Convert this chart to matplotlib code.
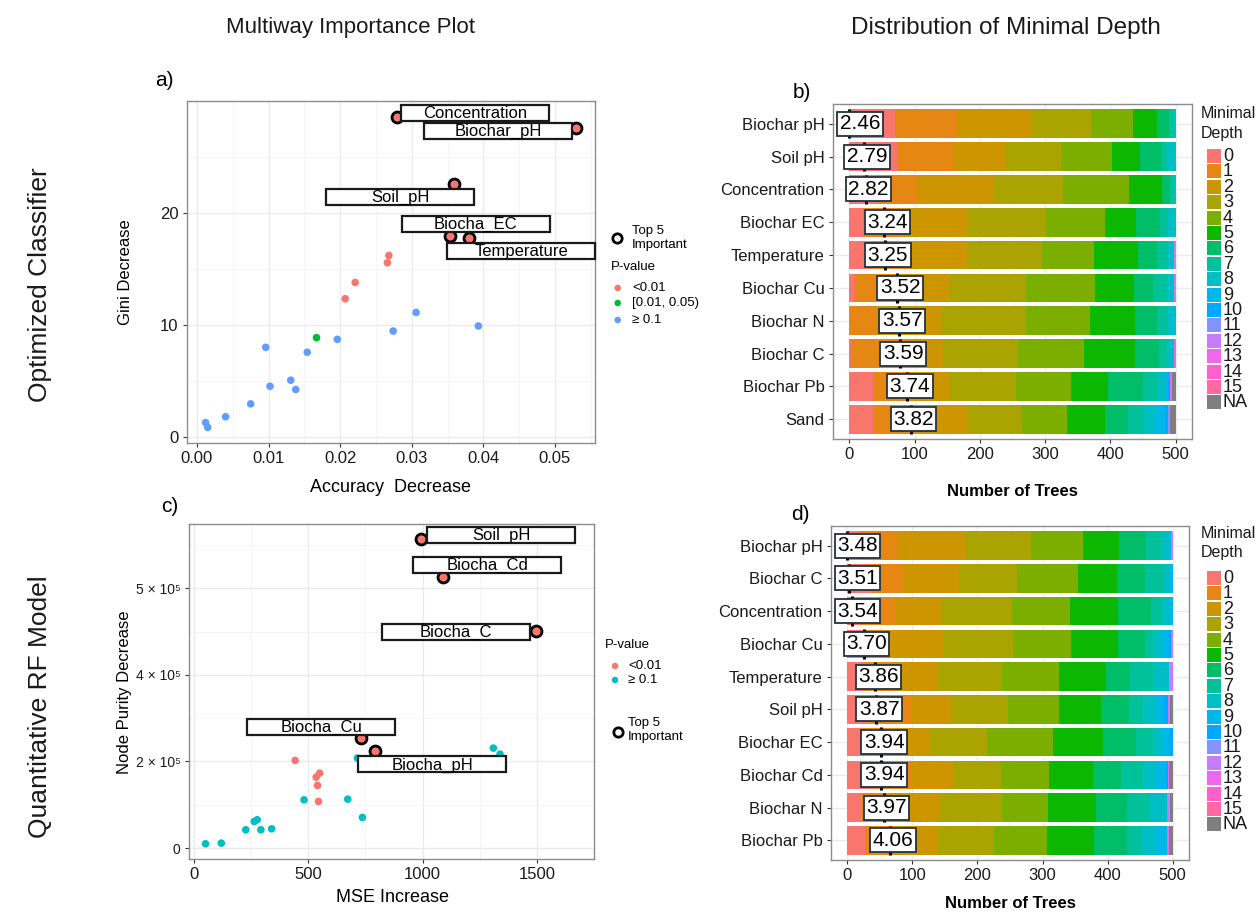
import matplotlib
matplotlib.use("Agg")
import matplotlib.pyplot as plt
from matplotlib.patches import Rectangle
import numpy as np

plt.rcParams['font.family'] = ['Liberation Sans', 'DejaVu Sans']

W, H = 1260, 914

# ---------------- a) multiway importance, classifier ----------------
a_top_names = ["Concentration", "Biochar_pH", "Soil_pH", "Biocha_EC", "Temperature"]
a_top_x = [0.0280, 0.0530, 0.0359, 0.0353, 0.0380]
a_top_y = [28.59, 27.59, 22.55, 17.93, 17.78]
a_red_x = [0.0207, 0.0221, 0.0266, 0.0268]
a_red_y = [12.36, 13.81, 15.56, 16.21]
a_green_x = [0.0167]
a_green_y = [8.89]
a_blue_x = [0.0012, 0.0015, 0.0040, 0.0075, 0.0096, 0.0102, 0.0131, 0.0138,
            0.0154, 0.0196, 0.0274, 0.0306, 0.0393]
a_blue_y = [1.33, 0.89, 1.84, 2.99, 8.03, 4.56, 5.10, 4.27,
            7.59, 8.74, 9.48, 11.14, 9.93]

# ---------------- c) multiway importance, regression ----------------
c_top_names = ["Soil_pH", "Biocha_Cd", "Biocha_C", "Biocha_Cu", "Biocha_pH"]
c_top_x = [994, 1091, 1496, 732, 794]
c_top_y = [713000, 625400, 501500, 253800, 223100]
c_red_x = [443, 535, 550, 541, 545]
c_red_y = [202300, 163800, 173000, 144600, 107700]
c_teal_x = [51, 120, 227, 264, 277, 293, 340, 482, 673, 715, 737, 1310, 1339]
c_teal_y = [10000, 11500, 42300, 61500, 65400, 42300, 44600, 111500,
            113000, 207700, 70800, 230800, 216900]
c_yticks = [0, 200000, 400000, 600000]
c_yticklabels = ["0", "2 × 10⁵", "4 × 10⁵", "5 × 10⁵"]

# ---------------- b) / d) minimal depth distribution ----------------
depth_levels = [str(i) for i in range(16)] + ["NA"]

b_vars = ["Biochar pH", "Soil pH", "Concentration", "Biochar EC", "Temperature",
          "Biochar Cu", "Biochar N", "Biochar C", "Biochar Pb", "Sand"]
b_mean = [2.46, 2.79, 2.82, 3.24, 3.25, 3.52, 3.57, 3.59, 3.74, 3.82]
b_counts = [
    [70, 97, 113, 90, 65, 36, 19, 6, 4, 0, 0, 0, 0, 0, 0, 0, 0],
    [73, 86, 81, 84, 78, 43, 32, 9, 14, 0, 0, 0, 0, 0, 0, 0, 0],
    [42, 63, 115, 108, 101, 50, 12, 5, 4, 0, 0, 0, 0, 0, 0, 0, 0],
    [21, 59, 102, 120, 89, 48, 37, 12, 12, 0, 0, 0, 0, 0, 0, 0, 0],
    [33, 60, 87, 115, 80, 68, 28, 17, 9, 0, 0, 0, 3, 0, 0, 0, 0],
    [9, 61, 85, 116, 105, 60, 30, 20, 10, 2, 0, 0, 2, 0, 0, 0, 0],
    [1, 38, 102, 129, 98, 69, 34, 17, 9, 3, 0, 0, 0, 0, 0, 0, 0],
    [3, 92, 49, 114, 101, 78, 37, 12, 11, 0, 0, 0, 0, 3, 0, 0, 0],
    [37, 60, 57, 101, 84, 58, 53, 22, 11, 5, 3, 0, 0, 3, 0, 0, 6],
    [37, 58, 87, 82, 69, 58, 36, 24, 17, 15, 5, 1, 1, 1, 1, 0, 8],
]
b_depth_span = 7.24

d_vars = ["Biochar pH", "Biochar C", "Concentration", "Biochar Cu", "Temperature",
          "Soil pH", "Biochar EC", "Biochar Cd", "Biochar N", "Biochar Pb"]
d_mean = [3.48, 3.51, 3.54, 3.70, 3.86, 3.87, 3.94, 3.94, 3.97, 4.06]
d_counts = [
    [18, 58, 105, 101, 80, 55, 42, 23, 13, 3, 0, 0, 2, 0, 0, 0, 0],
    [36, 51, 84, 89, 95, 60, 43, 29, 8, 5, 0, 0, 0, 0, 0, 0, 0],
    [20, 54, 71, 108, 89, 74, 50, 18, 11, 5, 0, 0, 0, 0, 0, 0, 0],
    [25, 41, 83, 105, 89, 73, 41, 13, 14, 8, 5, 0, 3, 0, 0, 0, 0],
    [25, 45, 69, 98, 89, 72, 37, 34, 26, 0, 0, 0, 5, 0, 0, 0, 0],
    [35, 64, 61, 87, 79, 64, 43, 21, 18, 15, 5, 0, 2, 2, 0, 0, 4],
    [23, 42, 61, 89, 101, 77, 51, 26, 14, 11, 5, 0, 0, 0, 0, 0, 0],
    [38, 60, 65, 73, 74, 68, 43, 33, 21, 14, 3, 0, 1, 1, 1, 0, 5],
    [23, 45, 75, 95, 71, 73, 48, 35, 26, 0, 0, 2, 3, 0, 0, 0, 4],
    [28, 45, 66, 86, 82, 72, 51, 21, 24, 16, 0, 0, 0, 4, 0, 0, 5],
]
d_depth_span = 4.39
n_trees = 500

depth_colors = ["#F8766D", "#E68613", "#CD9600", "#ABA300", "#7CAE00", "#0CB702",
                "#00BE67", "#00C19A", "#00BFC4", "#00B8E7", "#00A9FF", "#8494FF",
                "#C77CFF", "#ED68ED", "#FF61CC", "#FF68A1", "#7F7F7F"]

RED, GREEN, BLUE, TEAL = "#F8766D", "#00BA38", "#619CFF", "#00BFC4"
GRID = "#EBEBEB"
BORDER = "#8C8C8C"

fig = plt.figure(figsize=(W / 100, H / 100), dpi=100)


def px_axes(left, top, right, bottom):
    return fig.add_axes([left / W, 1 - bottom / H, (right - left) / W, (bottom - top) / H])


def style_axes(ax):
    for s in ax.spines.values():
        s.set_color(BORDER)
        s.set_linewidth(1.0)
    ax.tick_params(length=3, width=0.8, color="#333333", labelsize=12,
                   labelcolor="#1a1a1a", pad=3)
    ax.set_axisbelow(True)


def expand(vals, frac=0.05):
    lo, hi = min(vals), max(vals)
    d = (hi - lo) * frac
    return lo - d, hi + d


def scatter_panel(ax, groups, top_x, top_y, xticks, yticks):
    style_axes(ax)
    allx = [v for g in groups for v in g[0]] + list(top_x)
    ally = [v for g in groups for v in g[1]] + list(top_y)
    ax.set_xlim(*expand(allx))
    ax.set_ylim(*expand(ally))
    ax.set_xticks(xticks)
    ax.set_yticks(yticks)
    mx = [(a + b) / 2 for a, b in zip(xticks[:-1], xticks[1:])]
    my = [(a + b) / 2 for a, b in zip(yticks[:-1], yticks[1:])]
    ax.set_xticks(mx + [xticks[-1] + (xticks[1] - xticks[0]) / 2], minor=True)
    ax.set_yticks(my + [yticks[-1] + (yticks[1] - yticks[0]) / 2], minor=True)
    ax.tick_params(which="minor", length=0)
    ax.grid(True, which="major", color=GRID, lw=1.0)
    ax.grid(True, which="minor", color="#F4F4F4", lw=0.6)
    for gx, gy, col in groups:
        ax.scatter(gx, gy, s=30, color=col, edgecolor="none", zorder=3)
    ax.scatter(top_x, top_y, s=62, color=RED, edgecolor="black", linewidth=2.0, zorder=4)


# panel a
ax_a = px_axes(187, 101, 595, 443)
scatter_panel(ax_a, [(a_blue_x, a_blue_y, BLUE), (a_green_x, a_green_y, GREEN),
                     (a_red_x, a_red_y, RED)],
              a_top_x, a_top_y, [0, 0.01, 0.02, 0.03, 0.04, 0.05], [0, 10, 20])
ax_a.set_xticklabels(["0.00", "0.01", "0.02", "0.03", "0.04", "0.05"])

# panel c
ax_c = px_axes(189, 524, 594, 859)
scatter_panel(ax_c, [(c_teal_x, c_teal_y, TEAL), (c_red_x, c_red_y, RED)],
              c_top_x, c_top_y, [0, 500, 1000, 1500], c_yticks)
ax_c.set_yticklabels(c_yticklabels, fontsize=10)


def depth_panel(ax, names, counts, means, span):
    style_axes(ax)
    counts = np.array(counts)
    ypos = np.arange(len(names))
    ax.set_xlim(-25, 525)
    ax.set_ylim(len(names) - 0.4, -0.6)
    ax.set_xticks(range(0, 501, 100))
    ax.set_xticks(range(50, 501, 100), minor=True)
    ax.tick_params(which="minor", length=0)
    ax.set_yticks(ypos)
    ax.set_yticklabels(names, fontsize=12)
    ax.grid(True, which="major", color=GRID, lw=1.0)
    ax.grid(True, which="minor", axis="x", color="#F4F4F4", lw=0.6)
    left = np.zeros(len(names))
    for k in range(counts.shape[1]):
        ax.barh(ypos, counts[:, k], left=left, height=0.87,
                color=depth_colors[k], edgecolor="none", zorder=2)
        left += counts[:, k]
    lo = min(means)
    pos = [(m - lo) / span * n_trees for m in means]
    ax.vlines(pos, ypos - 0.45, ypos + 0.45, color="black", lw=2.2, zorder=3)
    # labels are nudged a little right and kept inside the panel
    for p, y, m in zip(pos, ypos, means):
        ax.text(max(p + 4.5, 16), y, f"{m:.2f}", ha="center", va="center",
                fontsize=15, zorder=4,
                bbox=dict(boxstyle="square,pad=0.12", fc="white", ec="#23323F", lw=1.3))


ax_b = px_axes(833, 104, 1192, 439)
depth_panel(ax_b, b_vars, b_counts, b_mean, b_depth_span)
ax_d = px_axes(831, 526, 1189, 860)
depth_panel(ax_d, d_vars, d_counts, d_mean, d_depth_span)

# overlay in pixel units for titles, legends and repelled labels
ov = fig.add_axes([0, 0, 1, 1], zorder=10)
ov.set_xlim(0, W)
ov.set_ylim(H, 0)
ov.axis("off")
ov.patch.set_alpha(0)


def to_px(ax, x, y):
    dx, dy = ax.transData.transform((x, y))
    return dx, H - dy


def label_boxes(ax, names, xs, ys, offsets):
    for name, x, y, (ox, oy) in zip(names, xs, ys, offsets):
        px, py = to_px(ax, x, y)
        cx, cy = px + ox, py + oy
        ov.add_patch(Rectangle((cx - 74, cy - 8), 148, 16, fc="white",
                               ec="#1a1a1a", lw=1.6, zorder=5))
        ov.text(cx, cy + 0.5, name, ha="center", va="center", fontsize=12, zorder=6)


label_boxes(ax_a, a_top_names, a_top_x, a_top_y,
            [(78, -4), (-78, 3), (-54, 13), (26, -12), (52, 13)])
label_boxes(ax_c, c_top_names, c_top_x, c_top_y,
            [(80, -4), (44, -12), (-80, 1.5), (-40, -11), (57, 13)])


def depth_legend(x0, title_y, key_y0, step=15.4):
    ov.text(x0, title_y, "Minimal", fontsize=11.5, va="center", color="#1a1a1a")
    ov.text(x0, title_y + 19.5, "Depth", fontsize=11.5, va="center", color="#1a1a1a")
    for i, (lab, col) in enumerate(zip(depth_levels, depth_colors)):
        yc = key_y0 + i * step
        ov.add_patch(Rectangle((x0 + 6, yc - 7), 14, 14, fc=col, ec="none"))
        ov.text(x0 + 22, yc + 0.5, lab, fontsize=13, va="center", color="#1a1a1a")


depth_legend(1201, 114, 156)
depth_legend(1201, 533, 578)

# headers
ov.text(351, 28, "Multiway Importance Plot", ha="center", va="center", fontsize=16, color="#1a1a1a")
ov.text(1006, 28, "Distribution of Minimal Depth", ha="center", va="center", fontsize=17.5, color="#1a1a1a")
ov.text(40, 285, "Optimized Classifier", ha="center", va="center", rotation=90, fontsize=19, color="#1a1a1a")
ov.text(40, 707, "Quantitative RF Model", ha="center", va="center", rotation=90, fontsize=19, color="#1a1a1a")

# panel tags
for tag, x, y in [("a)", 164, 80), ("b)", 802, 92), ("c)", 170, 507), ("d)", 800, 515)]:
    ov.text(x, y, tag, ha="center", va="center", fontsize=15)

# axis titles
ov.text(391, 487, "Accuracy  Decrease", ha="center", va="center", fontsize=13)
ov.text(125, 272, "Gini Decrease", ha="center", va="center", rotation=90, fontsize=12)
ov.text(392, 897, "MSE Increase", ha="center", va="center", fontsize=13)
ov.text(125, 692, "Node Purity Decrease", ha="center", va="center", rotation=90, fontsize=12)
ov.text(1012, 492, "Number of Trees", ha="center", va="center", fontsize=12, fontweight="bold")
ov.text(1010, 904, "Number of Trees", ha="center", va="center", fontsize=12, fontweight="bold")

# scatter legends
ov.scatter([617], [238], s=45, facecolor="white", edgecolor="black", lw=2.0, zorder=6)
ov.text(632, 231, "Top 5", fontsize=9.5, va="center")
ov.text(632, 245, "Important", fontsize=9.5, va="center")
ov.text(611, 267, "P-value", fontsize=9.5, va="center")
for yy, col, lab in [(288, RED, "<0.01"), (303, GREEN, "[0.01, 0.05)"), (320, BLUE, "≥ 0.1")]:
    ov.scatter([617.7], [yy], s=22, color=col, edgecolor="none", zorder=6)
    ov.text(632, yy, lab, fontsize=9.5, va="center")

ov.text(605, 645, "P-value", fontsize=9.5, va="center")
for yy, col, lab in [(666, RED, "<0.01"), (680, TEAL, "≥ 0.1")]:
    ov.scatter([615], [yy], s=22, color=col, edgecolor="none", zorder=6)
    ov.text(628, yy, lab, fontsize=9.5, va="center")
ov.scatter([618], [732], s=45, facecolor="white", edgecolor="black", lw=2.0, zorder=6)
ov.text(628, 723, "Top 5", fontsize=9.5, va="center")
ov.text(628, 737, "Important", fontsize=9.5, va="center")

fig.savefig("out.png", dpi=100)
